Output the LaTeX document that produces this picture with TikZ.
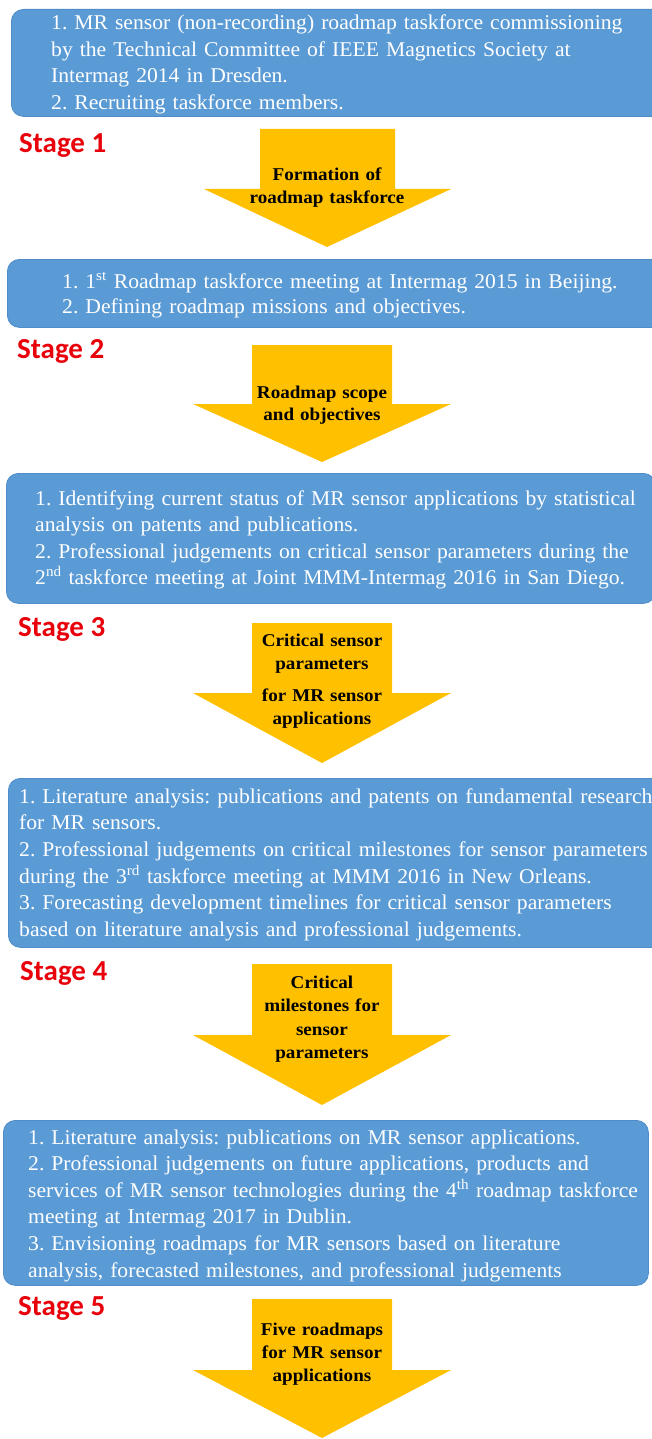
\documentclass[tikz,border=0pt]{standalone}
\usepackage{fontspec}
\setmainfont{Liberation Serif}[FakeStretch=1.03]
\newfontfamily\arrowfont{Liberation Serif}[FakeStretch=1.06]
\newfontfamily\stagefont{Carlito}
\definecolor{boxblue}{HTML}{5B9BD5}
\definecolor{boxedge}{HTML}{4F8CC9}
\definecolor{arrowgold}{HTML}{FFC000}
\definecolor{stagered}{HTML}{E8000B}
\lineskiplimit=-100pt\relax
\frenchspacing
% block arrow: top, wing, tip, shaft left, shaft right, wing left, wing right, tip x
\newcommand{\blockarr}[8]{%
  \fill[arrowgold] (#4,#1) -- (#5,#1) -- (#5,#2) -- (#7,#2) -- (#8,#3) -- (#6,#2) -- (#4,#2) -- cycle;}
\begin{document}
\begin{tikzpicture}[x=1pt,y=-1pt,
  bluebox/.style={fill=boxblue,draw=boxedge,line width=0.8pt,rounded corners=12pt,inner sep=0pt,anchor=north west},
  boxtext/.style={anchor=base west,inner sep=0pt,text=white,text width=720pt,align=left,font=\fontsize{21}{26.5}\selectfont},
  arrowtext/.style={anchor=base,inner sep=0pt,text width=170pt,align=center,font=\arrowfont\bfseries\fontsize{18}{23}\selectfont},
  stagelabel/.style={anchor=base west,inner sep=0pt,text=stagered,font=\stagefont\bfseries\fontsize{29}{34}\selectfont}]
\useasboundingbox (0,0) rectangle (651,1439);
\fill[white] (0,0) rectangle (651,1439);

% boxes
\node[bluebox,minimum width=655pt,minimum height=107pt] (box1) at (11,9) {};
\node[bluebox,minimum width=658pt,minimum height=68pt] (box2) at (7,259) {};
\node[bluebox,minimum width=649pt,minimum height=130pt] (box3) at (6,473) {};
\node[bluebox,minimum width=657pt,minimum height=169pt] (box4) at (8,778) {};
\node[bluebox,minimum width=645pt,minimum height=165pt] (box5) at (3,1120) {};

% box texts
\node[boxtext] (t1) at (51,30) {1. MR sensor (non-recording) roadmap taskforce commissioning\\
by the Technical Committee of IEEE Magnetics Society at\\
Intermag 2014 in Dresden.\\
2. Recruiting taskforce members.};
\node[boxtext,font=\fontsize{21}{25}\selectfont] (t2) at (62,288) {1. 1\textsuperscript{st} Roadmap taskforce meeting at Intermag 2015 in Beijing.\\
2. Defining roadmap missions and objectives.};
\node[boxtext] (t3) at (35,505) {1. Identifying current status of MR sensor applications by statistical\\
analysis on patents and publications.\\
2. Professional judgements on critical sensor parameters during the\\
2\textsuperscript{nd} taskforce meeting at Joint MMM-Intermag 2016 in San Diego.};
\node[boxtext,font=\fontsize{21}{26.7}\selectfont] (t4) at (19,803) {1. Literature analysis: publications and patents on fundamental research\\
for MR sensors.\\
2. Professional judgements on critical milestones for sensor parameters\\
during the 3\textsuperscript{rd} taskforce meeting at MMM 2016 in New Orleans.\\
3. Forecasting development timelines for critical sensor parameters\\
based on literature analysis and professional judgements.};
\node[boxtext,font=\fontsize{21}{26.6}\selectfont] (t5) at (28,1144) {1. Literature analysis: publications on MR sensor applications.\\
2. Professional judgements on future applications, products and\\
services of MR sensor technologies during the 4\textsuperscript{th} roadmap taskforce\\
meeting at Intermag 2017 in Dublin.\\
3. Envisioning roadmaps for MR sensors based on literature\\
analysis, forecasted milestones, and professional judgements};

% stage labels
\node[stagelabel] (s1) at (19,153) {Stage 1};
\node[stagelabel] (s2) at (17,358) {Stage 2};
\node[stagelabel] (s3) at (18,636) {Stage 3};
\node[stagelabel] (s4) at (20,980) {Stage 4};
\node[stagelabel] (s5) at (18,1315) {Stage 5};

% block arrows
\blockarr{129}{189}{247}{260}{395}{204}{451}{327}
\blockarr{345}{404}{462}{252}{392}{193}{451}{322}
\blockarr{623}{693}{763}{252}{392}{193}{451}{322}
\blockarr{964}{1035}{1105}{252}{392}{193}{451}{322}
\blockarr{1299}{1370}{1438}{252}{392}{193}{451}{322}

% arrow texts
\node[arrowtext] (a1) at (327,181) {Formation of\\roadmap taskforce};
\node[arrowtext,font=\arrowfont\bfseries\fontsize{18}{22}\selectfont] (a2) at (322,398) {Roadmap scope\\and objectives};
\node[arrowtext] (a3) at (322,646) {Critical sensor\\parameters\\[9pt]for MR sensor\\applications};
\node[arrowtext,font=\arrowfont\bfseries\fontsize{18}{23.6}\selectfont] (a4) at (322,988) {Critical\\milestones for\\sensor\\parameters};
\node[arrowtext] (a5) at (322,1335) {Five roadmaps\\for MR sensor\\applications};
\end{tikzpicture}
\end{document}
